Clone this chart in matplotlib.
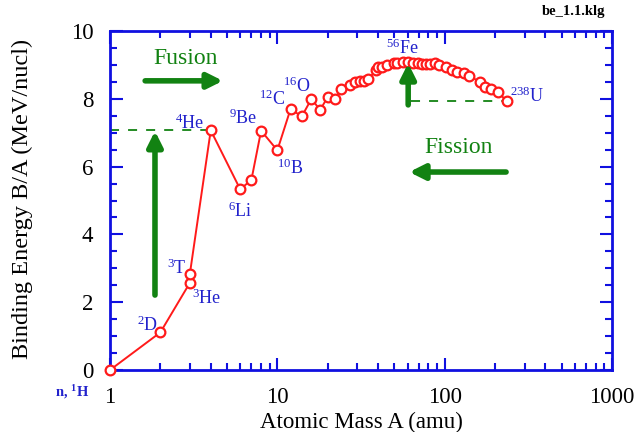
import matplotlib
matplotlib.use("Agg")
import matplotlib.pyplot as plt
from matplotlib.ticker import LogLocator, MultipleLocator, FixedLocator, NullFormatter

plt.rcParams['font.family'] = ['Liberation Serif', 'DejaVu Serif']
plt.rcParams['mathtext.fontset'] = 'custom'
plt.rcParams['mathtext.rm'] = 'Liberation Serif'
plt.rcParams['mathtext.it'] = 'Liberation Serif:italic'
plt.rcParams['mathtext.bf'] = 'Liberation Serif:bold'

# ---- data ----
mass_number = [1, 2, 3, 3, 4, 6, 7, 8, 10, 12, 14, 16, 18, 20, 22, 24, 27, 29, 31, 33, 35,
               39, 40, 42, 45, 50, 52, 56, 60, 65, 69, 73, 77, 82, 87, 93, 102, 111, 119,
               131, 140, 162, 175, 188, 207, 236]
binding_per_nucleon = [0.0, 1.11, 2.57, 2.83, 7.07, 5.33, 5.61, 7.06, 6.48, 7.70, 7.48, 8.00,
                       7.67, 8.05, 7.98, 8.28, 8.40, 8.50, 8.53, 8.53, 8.57, 8.86, 8.95, 8.93,
                       9.00, 9.05, 9.07, 9.09, 9.09, 9.07, 9.05, 9.03, 9.02, 9.02, 9.05, 9.00,
                       8.93, 8.86, 8.80, 8.76, 8.68, 8.50, 8.36, 8.30, 8.20, 7.93]

nuclide_labels = [r"$^{2}$D", r"$^{3}$T", r"$^{3}$He", r"$^{4}$He", r"$^{6}$Li", r"$^{9}$Be",
                  r"$^{10}$B", r"$^{12}$C", r"$^{16}$O", r"$^{56}$Fe", r"$^{238}$U"]
label_pos = [(0.074, 0.133), (0.133, 0.301), (0.193, 0.212), (0.159, 0.729), (0.259, 0.469),
             (0.265, 0.743), (0.359, 0.596), (0.323, 0.799), (0.371, 0.838), (0.582, 0.950),
             (0.831, 0.808)]

x_ticks = [1, 10, 100, 1000]
x_ticklabels = ["1", "10", "100", "1000"]
y_ticks = [0, 2, 4, 6, 8, 10]

BLUE = "#1010e0"
LBLUE = "#2222cc"
GREEN = "#128212"
RED = "#ff1a1a"

fig = plt.figure(figsize=(6.37, 4.32), dpi=100)
ax = fig.add_axes([110/637, 1-370/432, (612-110)/637, (370-31)/432])

ax.set_xscale('log')
ax.set_xlim(1, 1000)
ax.set_ylim(0, 10)

# dashed reference lines
he_i = 4
u_i = len(mass_number) - 1
ax.plot([1, mass_number[he_i]], [binding_per_nucleon[he_i]] * 2, ls=(0, (5, 5)), color=GREEN, lw=1.3, zorder=2)
ax.plot([63, mass_number[u_i]], [binding_per_nucleon[u_i]] * 2, ls=(0, (5, 5)), color=GREEN, lw=1.3, zorder=2)

ax.plot(mass_number, binding_per_nucleon, color=RED, lw=1.4, marker='o', ms=7,
        mfc='white', mec=RED, mew=1.6, zorder=3, clip_on=False)

# arrows
def arrow(x0, y0, x1, y1):
    ax.annotate("", xy=(x1, y1), xytext=(x0, y0), xycoords='axes fraction',
                textcoords='axes fraction',
                arrowprops=dict(arrowstyle='-|>,head_length=0.9,head_width=0.45',
                                lw=4, color=GREEN, shrinkA=0, shrinkB=0), zorder=4)

arrow(0.070, 0.853, 0.225, 0.853)   # fusion
arrow(0.0896, 0.221, 0.0896, 0.705)  # He up
arrow(0.594, 0.782, 0.594, 0.905)    # Fe up
arrow(0.789, 0.584, 0.596, 0.584)    # fission

ax.text(0.151, 0.920, "Fusion", transform=ax.transAxes, color=GREEN, fontsize=17,
        ha='center', va='center')
ax.text(0.695, 0.655, "Fission", transform=ax.transAxes, color=GREEN, fontsize=17,
        ha='center', va='center')

for lab, (px, py) in zip(nuclide_labels, label_pos):
    ax.text(px, py, lab, transform=ax.transAxes, color=LBLUE, fontsize=13,
            ha='center', va='center')

ax.text(-0.076, -0.065, r"n, $\mathbf{^{1}}$H", transform=ax.transAxes, color=LBLUE, fontsize=10.5,
        ha='center', va='center', fontweight='bold')

fig.text(605/637, 1-12/432, "be_1.1.klg", ha='right', va='center', fontsize=10.5,
         fontweight='bold', color='black')

# ticks
ax.xaxis.set_major_locator(FixedLocator(x_ticks))
ax.set_xticklabels(x_ticklabels)
ax.xaxis.set_minor_locator(LogLocator(base=10, subs=range(2, 10)))
ax.xaxis.set_minor_formatter(NullFormatter())
ax.yaxis.set_major_locator(FixedLocator(y_ticks))
ax.yaxis.set_minor_locator(MultipleLocator(0.5))

ax.tick_params(which='both', direction='in', top=True, right=True, color=BLUE, width=1.5)
ax.tick_params(which='major', length=9, labelsize=16.5)
ax.tick_params(which='minor', length=5)
ax.tick_params(axis='y', which='major', pad=12)
ax.tick_params(axis='x', which='major', pad=12)

for s in ax.spines.values():
    s.set_color(BLUE)
    s.set_linewidth(2)

ax.set_xlabel("Atomic Mass A (amu)", fontsize=16.5, va='top')
ax.xaxis.set_label_coords(0.5, -0.124)
ax.set_ylabel("Binding Energy B/A (MeV/nucl)", fontsize=17.5, va='center')
ax.yaxis.set_label_coords(-0.175, 0.504)

fig.savefig("out.png", dpi=100)
